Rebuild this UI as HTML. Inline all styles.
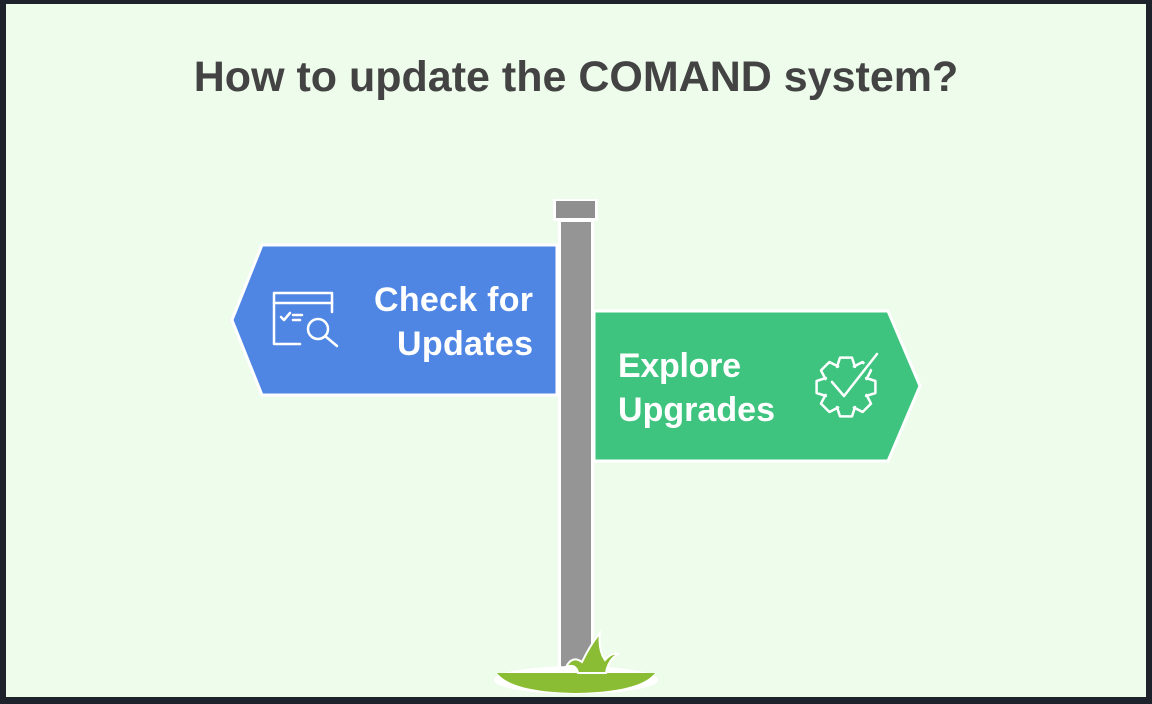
<!DOCTYPE html>
<html><head><style>
html,body{margin:0;padding:0;}
body{width:1152px;height:704px;background:#1e232b;position:relative;overflow:hidden;font-family:"Liberation Sans",sans-serif;}
#bg{position:absolute;left:6px;top:4px;width:1140px;height:693px;background:#eefcec;}
h1{position:absolute;left:0;width:1152px;top:53px;margin:0;text-align:center;font-size:43px;font-weight:bold;color:#434343;}
svg{position:absolute;left:0;top:0;}
.t{font-family:"Liberation Sans",sans-serif;font-weight:bold;font-size:34px;fill:#fff;}
</style></head><body>
<div id="bg"></div>
<h1>How to update the COMAND system?</h1>
<svg width="1152" height="704">
<rect x="553" y="199" width="45" height="22" fill="#fff"/>
<rect x="556" y="201" width="39" height="17" fill="#8f8f8f"/>
<rect x="558" y="220" width="36" height="454" fill="#fff"/>
<rect x="561" y="222" width="30" height="450" fill="#959595"/>
<polygon points="262,245 557,245 557,395 262,395 232,320" fill="#4f86e4" stroke="#fff" stroke-width="3"/>
<polygon points="594,311 888,311 920,386 888,461 594,461" fill="#3ec47e" stroke="#fff" stroke-width="3"/>
<text class="t" x="533" y="311" text-anchor="end" textLength="159">Check for</text>
<text class="t" x="533" y="355" text-anchor="end" textLength="136">Updates</text>
<text class="t" x="618" y="377" textLength="123">Explore</text>
<text class="t" x="618" y="421" textLength="157">Upgrades</text>
<g fill="none" stroke="#fff" stroke-width="2.5" stroke-linecap="round" stroke-linejoin="round">
<path d="M300 344 H274 V293 H332 V312"/><line x1="274" y1="303" x2="332" y2="303"/>
<path d="M281 317 l3 3 l6 -7"/><line x1="293" y1="315" x2="302" y2="315"/><line x1="293" y1="320" x2="300" y2="320"/>
<circle cx="318" cy="329" r="10"/><line x1="325" y1="336" x2="337" y2="346"/>
<path id="gear"/>
<path d="M832 382 l12 14 l33 -42" stroke="#3ec47e" stroke-width="8"/>
<path d="M832 382 l12 14 l33 -42"/>
</g>
<ellipse cx="576" cy="680" rx="82" ry="14" fill="#fff"/>
<path d="M497 673 H655 Q640 692 576 693 Q512 692 497 673 Z" fill="#8bbd34"/>
<path d="M566 667 Q572 655 582 662 Q590 645 600 633 Q598 650 605 660 Q612 652 618 654 Q608 660 606 673 H578 Q576 663 566 667 Z" fill="#8bbd34" stroke="#fff" stroke-width="2"/>
</svg>
<script>
(function(){var cx=846,cy=387,ro=30,ri=22,d="",n=8;
for(var i=0;i<n;i++){var a=i*2*Math.PI/n;var p=[[a-0.42,ri],[a-0.2,ro],[a+0.2,ro],[a+0.42,ri]];
p.forEach(function(q,j){var x=cx+q[1]*Math.cos(q[0]),y=cy+q[1]*Math.sin(q[0]);d+=(i==0&&j==0?"M":"L")+x.toFixed(1)+" "+y.toFixed(1)+" ";});}
d+="Z";document.getElementById("gear").setAttribute("d",d);})();
</script>
</body></html>
